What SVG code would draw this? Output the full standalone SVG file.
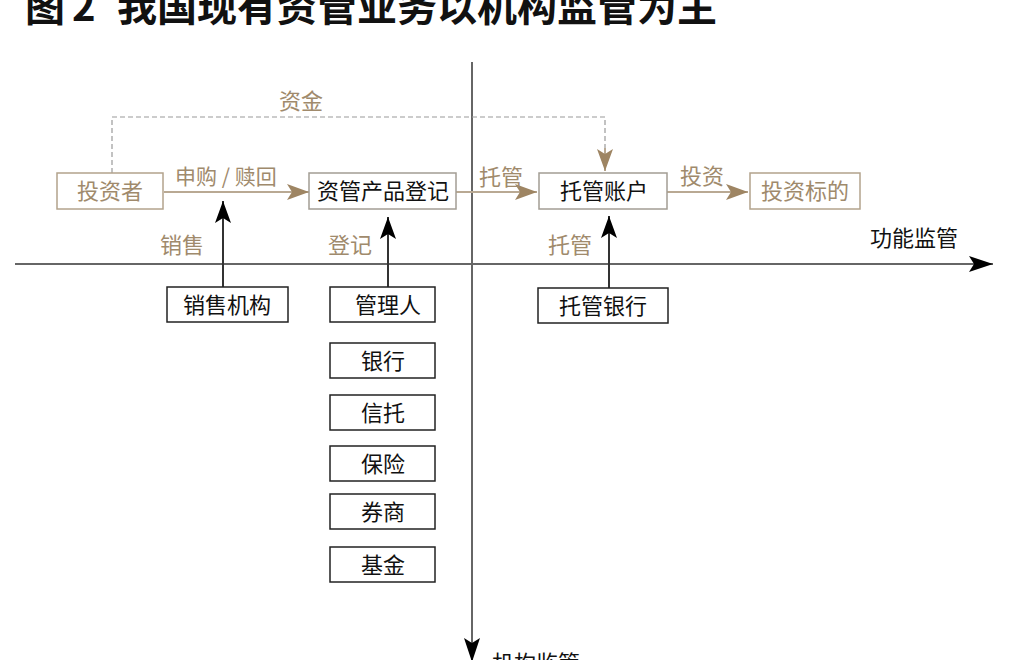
<svg xmlns="http://www.w3.org/2000/svg" width="1010" height="660" viewBox="0 0 1010 660">
<style>
  text { font-family: "Noto Sans CJK SC", "Noto Sans", sans-serif; }
  .title { font-size: 40px; font-weight: bold; fill: #111; }
  .bt { font-size: 22px; fill: #111; text-anchor: middle; }
  .gt { font-size: 22px; fill: #a08a6c; text-anchor: middle; }
  .lbl { font-size: 21px; fill: #a08a6c; }
  .ax { font-size: 22px; fill: #111; }
  .gbox { fill: #fff; stroke: #b3a38c; stroke-width: 1.5; }
  .mbox { fill: #fff; stroke: #a39d94; stroke-width: 1.5; }
  .kbox { fill: #fff; stroke: #222; stroke-width: 1.5; }
  .gline { stroke: #b9a993; stroke-width: 2; fill: none; }
  .kline { stroke: #333; stroke-width: 2; fill: none; }
  .axis { stroke: #666; stroke-width: 2; fill: none; }
  .dash { stroke: #9a9a9a; stroke-width: 1.2; stroke-dasharray: 5 3; fill: none; }
</style>
<defs>
  <marker id="ga" markerUnits="userSpaceOnUse" markerWidth="24" markerHeight="18" refX="22" refY="8" orient="auto">
    <path d="M0,0 L22,8 L0,16 L5,8 Z" fill="#9e8563"/>
  </marker>
  <marker id="ka" markerUnits="userSpaceOnUse" markerWidth="24" markerHeight="18" refX="22" refY="8" orient="auto">
    <path d="M0,0 L22,8 L0,16 L5,8 Z" fill="#000"/>
  </marker>
  <marker id="axa" markerUnits="userSpaceOnUse" markerWidth="26" markerHeight="18" refX="24" refY="8" orient="auto">
    <path d="M0,0 L24,8 L0,16 L5,8 Z" fill="#000"/>
  </marker>
</defs>

<text class="title" y="21"><tspan x="25">图</tspan><tspan x="72">2</tspan><tspan x="117">我国现有资管业务以机构监管为主</tspan></text>

<g id="axes">
  <line class="axis" x1="15" y1="264" x2="993" y2="264" marker-end="url(#axa)"/>
  <line class="axis" x1="472" y1="62" x2="472" y2="662" marker-end="url(#axa)"/>
  <text class="ax" x="870" y="246">功能监管</text>
  <text class="ax" x="492" y="671">机构监管</text>
</g>

<g id="connectors">
  <polyline class="dash" points="112,173 112,117 605,117 605,150"/>
  <line class="gline" x1="605" y1="148" x2="605" y2="171" marker-end="url(#ga)"/>
  <line class="gline" x1="164" y1="192" x2="309" y2="192" marker-end="url(#ga)"/>
  <line class="gline" x1="456" y1="192" x2="537" y2="192" marker-end="url(#ga)"/>
  <line class="gline" x1="667" y1="192" x2="748" y2="192" marker-end="url(#ga)"/>
  <line class="kline" x1="223" y1="287" x2="223" y2="201" marker-end="url(#ka)"/>
  <line class="kline" x1="388" y1="287" x2="388" y2="217" marker-end="url(#ka)"/>
  <line class="kline" x1="609" y1="288" x2="609" y2="216" marker-end="url(#ka)"/>
  <text class="gt" x="301" y="109">资金</text>
  <text class="lbl" x="175" y="184">申购 / 赎回</text>
  <text class="gt" x="501" y="185">托管</text>
  <text class="gt" x="702" y="184">投资</text>
  <text class="gt" x="182" y="253">销售</text>
  <text class="gt" x="350" y="253">登记</text>
  <text class="gt" x="570" y="253">托管</text>
</g>

<g id="n-investor"><rect class="gbox" x="57" y="173" width="106" height="36"/><text class="gt" x="110" y="199">投资者</text></g>
<g id="n-product"><rect class="mbox" x="309" y="173" width="147" height="36"/><text class="bt" x="383" y="199">资管产品登记</text></g>
<g id="n-account"><rect class="mbox" x="539" y="173" width="128" height="36"/><text class="bt" x="604" y="199">托管账户</text></g>
<g id="n-target"><rect class="gbox" x="750" y="173" width="110" height="36"/><text class="gt" x="805" y="199">投资标的</text></g>

<g id="n-sales"><rect class="kbox" x="167" y="287" width="121" height="35"/><text class="bt" x="227" y="313">销售机构</text></g>
<g id="n-manager"><rect class="kbox" x="330" y="287" width="105" height="35"/><text class="bt" x="388" y="313">管理人</text></g>
<g id="n-custbank"><rect class="kbox" x="538" y="288" width="130" height="35"/><text class="bt" x="603" y="314">托管银行</text></g>
<g id="n-bank"><rect class="kbox" x="330" y="343" width="105" height="35"/><text class="bt" x="383" y="369">银行</text></g>
<g id="n-trust"><rect class="kbox" x="330" y="395" width="105" height="35"/><text class="bt" x="383" y="421">信托</text></g>
<g id="n-insurance"><rect class="kbox" x="330" y="446" width="105" height="35"/><text class="bt" x="383" y="472">保险</text></g>
<g id="n-broker"><rect class="kbox" x="330" y="494" width="105" height="35"/><text class="bt" x="383" y="520">券商</text></g>
<g id="n-fund"><rect class="kbox" x="330" y="547" width="105" height="35"/><text class="bt" x="383" y="573">基金</text></g>
</svg>
